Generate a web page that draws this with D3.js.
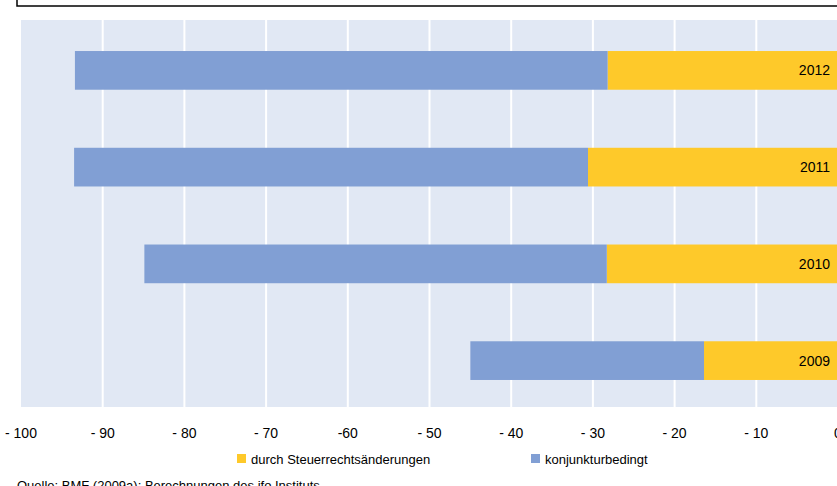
<!DOCTYPE html>
<html lang="de">
<head>
<meta charset="UTF-8">
<script src="https://d3js.org/d3.v7.min.js"></script>
<style>body{margin:0;background:#fff;} text{font-family:"Liberation Sans",Arial,sans-serif;}</style>
</head>
<body>
<svg id="chart" width="837" height="486"></svg>
<script>
const years = ["2012", "2011", "2010", "2009"];
const konjunktur = [-65.2, -62.9, -56.6, -28.6];   // blue segment length
const steuer = [-28.2, -30.6, -28.3, -16.4];       // yellow segment length
const ticks = [-100, -90, -80, -70, -60, -50, -40, -30, -20, -10, 0];
const tickLabels = ["- 100", "- 90", "- 80", "- 70", "-60", "- 50", "- 40", "- 30", "- 20", "- 10", "0"];

const svg = d3.select("#chart");
const plotL = 21, plotR = 838, plotT = 20, plotB = 407;

const x = d3.scaleLinear().domain([-100, 0]).range([plotL, plotR]);
const y = d3.scaleBand().domain(years).range([plotT + 2, plotB + 2]).paddingInner(0.6).paddingOuter(0.3);

// top box (cut off)
svg.append("rect").attr("x", 17).attr("y", -20).attr("width", 830).attr("height", 26)
    .attr("fill", "none").attr("stroke", "#000").attr("stroke-width", 1.5);

svg.append("rect").attr("x", plotL).attr("y", plotT).attr("width", plotR - plotL).attr("height", plotB - plotT)
    .attr("fill", "#e1e8f4");

svg.selectAll(".grid").data(ticks.slice(1, -1)).join("line")
    .attr("x1", d => x(d)).attr("x2", d => x(d))
    .attr("y1", plotT).attr("y2", plotB)
    .attr("stroke", "#fff").attr("stroke-width", 2);

years.forEach((yr, i) => {
    const s = steuer[i], k = konjunktur[i];
    svg.append("rect").attr("x", x(s)).attr("y", y(yr))
        .attr("width", x(0) - x(s)).attr("height", y.bandwidth()).attr("fill", "#fec92a");
    svg.append("rect").attr("x", x(s + k)).attr("y", y(yr))
        .attr("width", x(s) - x(s + k)).attr("height", y.bandwidth()).attr("fill", "#819fd4");
    svg.append("text").attr("x", 830).attr("y", y(yr) + y.bandwidth() / 2 + 5)
        .attr("text-anchor", "end").style("font-size", "14px").attr("fill", "#000").text(yr);
});

svg.selectAll(".tick").data(ticks).join("text")
    .attr("x", d => x(d)).attr("y", 438)
    .attr("text-anchor", "middle").style("font-size", "14px").attr("fill", "#000")
    .text((d, i) => tickLabels[i]);

const legend = [
    { label: "durch Steuerrechtsänderungen", color: "#fec92a", x: 237 },
    { label: "konjunkturbedingt", color: "#819fd4", x: 531 }
];
legend.forEach(l => {
    svg.append("rect").attr("x", l.x).attr("y", 454).attr("width", 9).attr("height", 9).attr("fill", l.color);
    svg.append("text").attr("x", l.x + 14).attr("y", 464).style("font-size", "13px").attr("fill", "#000").text(l.label);
});

svg.append("text").attr("x", 17).attr("y", 490).style("font-size", "13px").attr("fill", "#000")
    .text("Quelle: BMF (2009a); Berechnungen des ifo Instituts.");
</script>
</body>
</html>
